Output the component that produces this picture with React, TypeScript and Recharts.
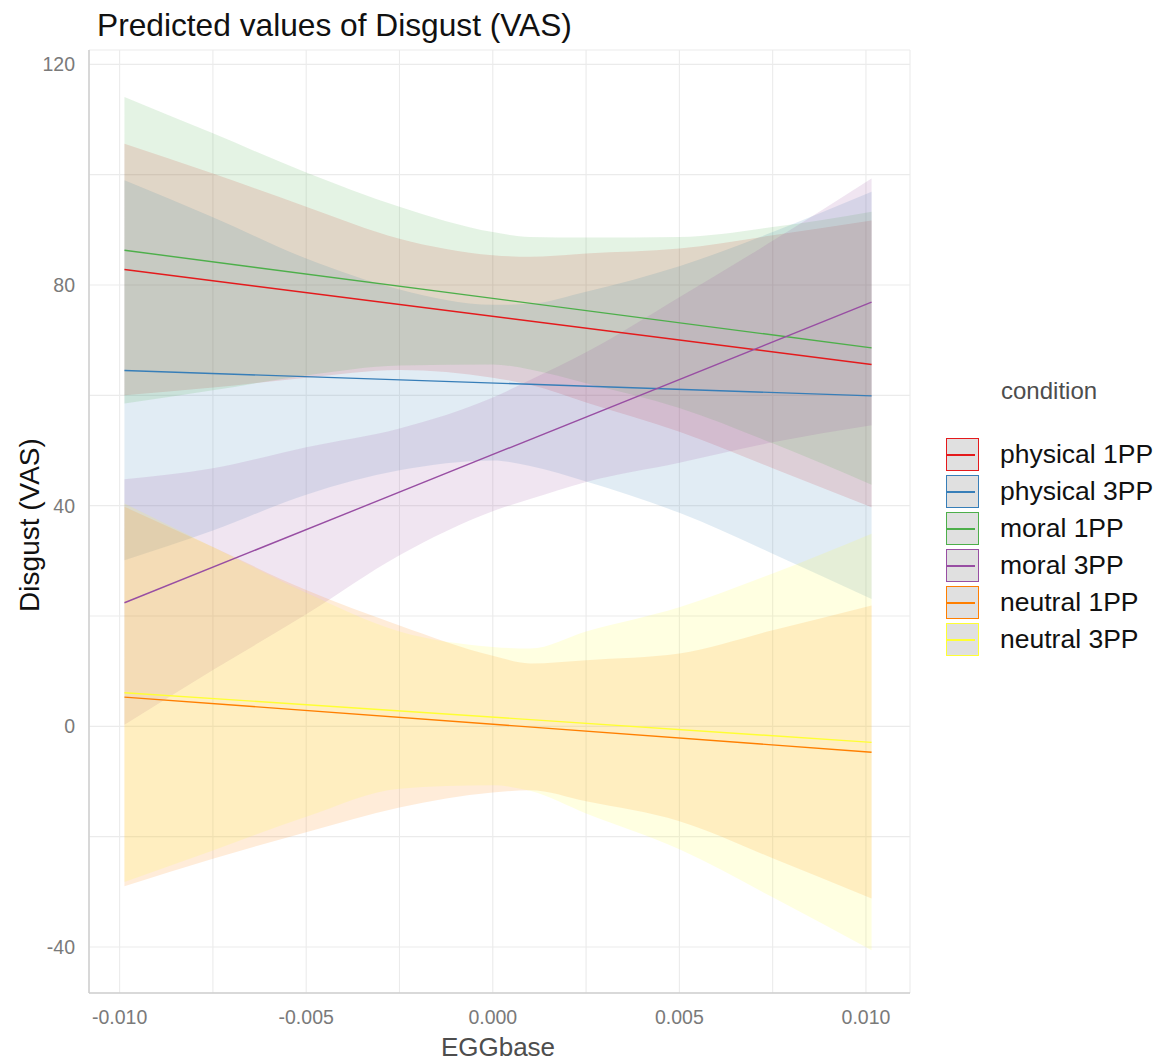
import React from "react";
import { ComposedChart, Area, Line, XAxis, YAxis, CartesianGrid } from "recharts";

// EGGbase values at which the predictions were evaluated
const egg = [-0.00987, -0.0075, -0.005, -0.0025, 0, 0.001, 0.0025, 0.005, 0.0075, 0.01015];

// fitted lines (start / end of the EGGbase range)
const physical1PPFit = [82.8, 65.6];
const physical3PPFit = [64.5, 59.9];
const moral1PPFit = [86.3, 68.6];
const moral3PPFit = [22.4, 76.9];
const neutral1PPFit = [5.3, -4.7];
const neutral3PPFit = [6.1, -2.9];

// confidence bands
const physical1PPLow = [60.0, 61.4, 63.2, 64.6, 63.2, 61.9, 58.7, 53.4, 46.8, 39.7];
const physical1PPHigh = [105.6, 100.2, 94.2, 88.4, 85.4, 85.1, 85.7, 86.6, 89.0, 91.7];
const physical3PPLow = [30.1, 35.5, 42.0, 46.4, 48.2, 47.2, 44.4, 38.7, 31.3, 23.1];
const physical3PPHigh = [99.0, 92.3, 84.8, 79.2, 76.4, 76.6, 78.8, 83.4, 89.6, 96.9];
const moral1PPLow = [58.5, 60.9, 63.6, 65.4, 65.6, 64.7, 62.2, 57.7, 51.3, 43.8];
const moral1PPHigh = [114.1, 107.5, 100.4, 94.2, 89.6, 88.7, 88.6, 88.7, 90.5, 93.3];
const moral3PPLow = [0.3, 10.2, 20.3, 31.0, 39.0, 41.2, 44.3, 47.8, 51.5, 54.6];
const moral3PPHigh = [44.8, 46.8, 50.6, 54.0, 59.6, 62.8, 67.8, 77.8, 88.0, 99.3];
const neutral1PPLow = [-29.0, -24.0, -19.2, -14.7, -12.0, -11.6, -13.6, -17.2, -23.9, -31.2];
const neutral1PPHigh = [39.8, 32.5, 24.7, 18.3, 12.8, 11.4, 12.0, 13.2, 17.4, 21.9];
const neutral3PPLow = [-28.2, -22.5, -16.4, -11.3, -10.7, -11.7, -15.8, -22.3, -31.0, -40.6];
const neutral3PPHigh = [40.4, 32.5, 24.2, 17.2, 14.4, 14.1, 17.2, 21.6, 27.7, 34.9];

const xTicks = [-0.01, -0.0075, -0.005, -0.0025, 0, 0.0025, 0.005, 0.0075, 0.01];
const xLabelTicks = [-0.01, -0.005, 0, 0.005, 0.01];
const yTicks = [-40, -20, 0, 20, 40, 60, 80, 100, 120];
const yLabelTicks = [-40, 0, 40, 80, 120];

const conditions = [
  { key: "p1", name: "physical 1PP", color: "#E41A1C", fit: physical1PPFit, low: physical1PPLow, high: physical1PPHigh },
  { key: "p3", name: "physical 3PP", color: "#377EB8", fit: physical3PPFit, low: physical3PPLow, high: physical3PPHigh },
  { key: "m1", name: "moral 1PP", color: "#4DAF4A", fit: moral1PPFit, low: moral1PPLow, high: moral1PPHigh },
  { key: "m3", name: "moral 3PP", color: "#984EA3", fit: moral3PPFit, low: moral3PPLow, high: moral3PPHigh },
  { key: "n1", name: "neutral 1PP", color: "#FF7F00", fit: neutral1PPFit, low: neutral1PPLow, high: neutral1PPHigh },
  { key: "n3", name: "neutral 3PP", color: "#FFFF33", fit: neutral3PPFit, low: neutral3PPLow, high: neutral3PPHigh },
];

const last = egg.length - 1;
const data = egg.map((x, i) => {
  const row: Record<string, unknown> = { x };
  conditions.forEach((c) => {
    row[c.key + "Band"] = [c.low[i], c.high[i]];
    row[c.key + "Fit"] = i === 0 ? c.fit[0] : i === last ? c.fit[1] : null;
  });
  return row;
});

const FONT = '"Liberation Sans", Arial, sans-serif';

function Legend() {
  return (
    <div style={{ position: "absolute", left: 946, top: 376, fontFamily: FONT }}>
      <div style={{ marginLeft: 55, fontSize: 24, lineHeight: "30px", color: "#4d4d4d", height: 60 }}>condition</div>
      {conditions.map((c) => (
        <div key={c.key} style={{ display: "flex", alignItems: "center", height: 37 }}>
          <div
            style={{
              width: 31,
              height: 31,
              border: `1.6px solid ${c.color}`,
              background: "#e0e0e0",
              position: "relative",
            }}
          >
            <div style={{ position: "absolute", left: 0, right: 3, top: 14.5, height: 2, background: c.color }} />
          </div>
          <span style={{ marginLeft: 21, fontSize: 26.5, color: "#111" }}>{c.name}</span>
        </div>
      ))}
    </div>
  );
}

export default function App() {
  return (
    <div style={{ position: "absolute", left: 0, top: 0, width: 1171, height: 1063, background: "#fff", fontFamily: FONT }}>
      <div style={{ position: "absolute", left: 97, top: 10, fontSize: 31.7, lineHeight: "31px", color: "#111", whiteSpace: "nowrap" }}>
        Predicted values of Disgust (VAS)
      </div>
      <ComposedChart width={1171} height={1063} data={data} margin={{ top: 50, right: 261, bottom: 30, left: 29 }}>
        <CartesianGrid stroke="#ebebeb" strokeWidth={1.1} />
        <XAxis
          type="number"
          dataKey="x"
          domain={[-0.01082, 0.01118]}
          ticks={xTicks}
          tickFormatter={(v: number) => (xLabelTicks.some((t) => Math.abs(t - v) < 1e-9) ? v.toFixed(3) : "")}
          height={40}
          tickLine={false}
          tickSize={0}
          tickMargin={17}
          axisLine={{ stroke: "#cfcfcf", strokeWidth: 1.5 }}
          tick={{ fill: "#7a7a7a", fontSize: 19.5, fontFamily: FONT }}
        />
        <YAxis
          type="number"
          domain={[-48.34, 122.6]}
          ticks={yTicks}
          tickFormatter={(v: number) => (yLabelTicks.includes(v) ? String(v) : "")}
          width={60}
          tickLine={false}
          tickSize={0}
          tickMargin={14}
          axisLine={{ stroke: "#cfcfcf", strokeWidth: 1.5 }}
          tick={{ fill: "#7a7a7a", fontSize: 19.5, fontFamily: FONT }}
        />
        {conditions.map((c) => (
          <Area
            key={c.key + "Band"}
            dataKey={c.key + "Band"}
            type="monotone"
            stroke="none"
            fill={c.color}
            fillOpacity={0.15}
            dot={false}
            activeDot={false}
            isAnimationActive={false}
          />
        ))}
        {conditions.map((c) => (
          <Line
            key={c.key + "Fit"}
            dataKey={c.key + "Fit"}
            type="linear"
            stroke={c.color}
            strokeWidth={1.4}
            dot={false}
            activeDot={false}
            connectNulls
            isAnimationActive={false}
          />
        ))}
      </ComposedChart>
      <div
        style={{
          position: "absolute",
          left: 30,
          top: 525,
          transform: "translate(-50%, -50%) rotate(-90deg)",
          fontSize: 28,
          color: "#111",
          whiteSpace: "nowrap",
        }}
      >
        Disgust (VAS)
      </div>
      <div
        style={{
          position: "absolute",
          left: 498,
          top: 1047,
          transform: "translate(-50%, -50%)",
          fontSize: 26,
          color: "#4d4d4d",
          whiteSpace: "nowrap",
        }}
      >
        EGGbase
      </div>
      <Legend />
    </div>
  );
}
